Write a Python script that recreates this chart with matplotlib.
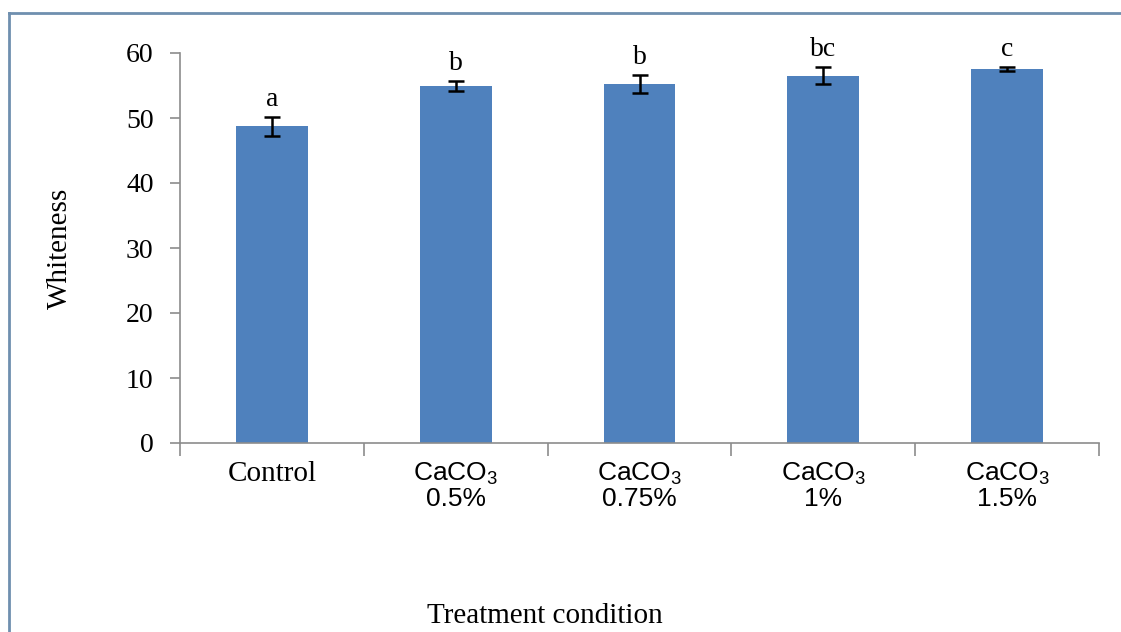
import numpy as np
import matplotlib
matplotlib.use('Agg')
import matplotlib.pyplot as plt
from matplotlib.lines import Line2D

plt.rcParams['font.family'] = ['Liberation Serif', 'DejaVu Serif']
plt.rcParams['mathtext.fontset'] = 'custom'
plt.rcParams['mathtext.rm'] = 'Liberation Sans'
plt.rcParams['mathtext.it'] = 'Liberation Sans'

# データ
categories = ['Control', 'CaCO$_3$\n0.5%', 'CaCO$_3$\n0.75%', 'CaCO$_3$\n1%', 'CaCO$_3$\n1.5%']
whiteness = [48.7, 54.9, 55.2, 56.5, 57.5]
errors = [1.5, 0.8, 1.4, 1.3, 0.3]
letters = ['a', 'b', 'b', 'bc', 'c']

bar_color = '#4F81BD'
axis_color = '#8C8C8C'

fig = plt.figure(figsize=(11.21, 6.32), dpi=100)
ax = fig.add_axes([180/1121, 1 - 443/632, 919/1121, 390/632])

x = np.arange(len(categories))
ax.bar(x, whiteness, width=0.39, color=bar_color, zorder=2)
ax.errorbar(x, whiteness, yerr=errors, fmt='none', ecolor='black',
            elinewidth=1.8, capsize=6, capthick=1.8, zorder=3)

for xi, v, e, lab in zip(x, whiteness, errors, letters):
    ax.text(xi, v + e + 0.8, lab, ha='center', va='bottom', fontsize=20)

ax.set_xlim(-0.5, len(categories) - 0.5)
ax.set_ylim(0, 60)
ax.set_yticks(np.arange(0, 61, 10))
ax.tick_params(axis='y', labelsize=20, length=7, width=1.2, color=axis_color, pad=12)

# 目盛りはカテゴリ境界、ラベルは中央
ax.set_xticks(np.arange(-0.5, len(categories), 1.0))
ax.set_xticklabels([])
ax.tick_params(axis='x', which='major', length=9, width=1.2, color=axis_color)
ax.set_xticks(x, minor=True)
ax.set_xticklabels(categories, minor=True)
ax.tick_params(axis='x', which='minor', length=0, pad=13, labelsize=19)
for t in ax.get_xticklabels(minor=True):
    if t.get_text().startswith('CaCO'):
        t.set_fontfamily('Liberation Sans')
        t.set_fontsize(19)
        t.set_linespacing(1.0)
    else:
        t.set_fontsize(21)

for s in ['top', 'right']:
    ax.spines[s].set_visible(False)
for s in ['left', 'bottom']:
    ax.spines[s].set_color(axis_color)
    ax.spines[s].set_linewidth(1.2)

ax.set_ylabel('Whiteness', fontsize=21)
ax.yaxis.set_label_coords(-0.116, 0.5)
ax.set_xlabel('Treatment condition', fontsize=21)
ax.xaxis.set_label_coords(0.397, -0.41)

# 外枠（上と左のみ見える）
frame_color = '#6F8FAF'
fig.add_artist(Line2D([9/1121, 1.0], [1 - 13/632, 1 - 13/632], color=frame_color, lw=2, transform=fig.transFigure))
fig.add_artist(Line2D([9/1121, 9/1121], [0.0, 1 - 13/632], color=frame_color, lw=2, transform=fig.transFigure))

fig.savefig('out.png', dpi=100)
